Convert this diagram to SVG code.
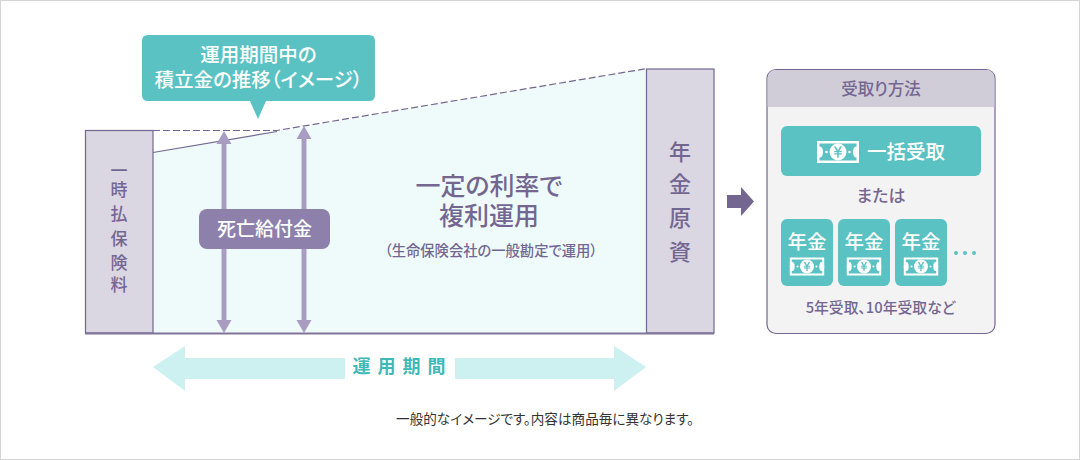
<svg xmlns="http://www.w3.org/2000/svg" width="1080" height="460" viewBox="0 0 1080 460">
<style>
text{font-family:"Noto Sans CJK JP","Noto Sans",sans-serif;text-anchor:middle;font-feature-settings:"palt"}
.v{fill:#736791;font-weight:500}
.lc{font-size:17px}
.rc{font-size:22px}
.w{fill:#fff}
.d{fill:#736791}
.teal{fill:#5ac2c2}
.col{fill:#dad6e2;stroke:#736791;stroke-width:1.2}
.dash{fill:none;stroke:#736791;stroke-width:1.2;stroke-dasharray:7 3}
.up{fill:#a89dc0}
</style>
<defs>
<g id="bill">
<rect x="-21" y="-11" width="42" height="22" fill="#fff"/>
<rect x="-18.500" y="-8.500" width="37" height="17" class="teal"/>
<ellipse cx="-18" rx="3" ry="5.500" fill="#fff"/>
<ellipse cx="18" rx="3" ry="5.500" fill="#fff"/>
<circle r="8.500" fill="#fff"/>
<path class="teal" d="M-4-5.500H-2.100L0-1.800 2.100-5.500H4L1.300-1H3.800V.2H.8V1.300H3.800V2.500H.8V5.500H-.8V2.500H-3.800V1.300H-.8V.2H-3.800V-1H-1.300Z"/>
<circle cx="-11.500" r="1.300" fill="#fff"/><circle cx="11.500" r="1.300" fill="#fff"/>
</g>
<g id="nen">
<rect width="52" height="67" rx="6" class="teal"/>
<text x="26" y="30" class="w" font-size="19.500" font-weight="500">年金</text>
<use href="#bill" transform="translate(26 47.500) scale(.82)"/>
</g>
</defs>
<rect x=".5" y=".5" width="1079" height="459" fill="#fff" stroke="#d4d4d4"/>
<g id="fund"><path d="M153 152.500L646 69V333H153Z" fill="#effbfb"/></g>
<g id="connectors">
<path class="dash" d="M153 130.500H277L646 68.700"/>
<path d="M153 152.500L277 131.500" fill="none" stroke="#736791" stroke-width="1.200"/>
<path class="up" d="M224 131L231.500 144H226.500V320H231.500L224 333 216.500 320H221.500V144H216.500Z"/>
<path class="up" d="M304 126L311.500 139H306.500V320H311.500L304 333 296.500 320H301.500V139H296.500Z"/>
<path d="M727 195H741V187L754 201.500 741 216V208H727Z" class="d"/>
<path d="M153 367L185 346V358H345V379H185V391Z M646 367L614 346V358H455V379H614V391Z" fill="#ccf1f0"/>
</g>
<g id="left-col"><rect x="85.500" y="130.500" width="67.500" height="202.500" class="col"/>
<text class="v lc"><tspan x="119" y="177">一</tspan><tspan x="119" y="196">時</tspan><tspan x="119" y="220">払</tspan><tspan x="119" y="245">保</tspan><tspan x="119" y="269">険</tspan><tspan x="119" y="291">料</tspan></text></g>
<g id="right-col"><rect x="646.500" y="69" width="67.500" height="264" class="col"/>
<text class="v rc" x="680" y="160">年</text><text class="v rc" x="680" y="192">金</text><text class="v rc" x="680" y="226">原</text><text class="v rc" x="680" y="260">資</text></g>
<path id="baseline" d="M85 333.500H714" stroke="#817599" stroke-width="2" fill="none"/>
<g id="callout"><path class="teal" d="M148 35H369Q375 35 375 41V95Q375 101 369 101H266L258 119 250 101H148Q142 101 142 95V41Q142 35 148 35Z"/>
<text x="258.500" y="62" class="w" font-size="19.500" font-weight="500">運用期間中の</text><text x="258.500" y="87" class="w" font-size="19.500" font-weight="500">積立金の推移（イメージ）</text></g>
<g id="death"><rect x="199" y="209" width="131" height="40" rx="8" fill="#8d80ab"/><text x="264.500" y="236" class="w" font-size="19" font-weight="500">死亡給付金</text></g>
<g id="rate"><text class="d" font-size="25" font-weight="500"><tspan x="489" y="195">一定の利率で</tspan><tspan x="489" y="225">複利運用</tspan></text>
<text x="491" y="256" class="d" font-size="14.300" font-weight="500">（生命保険会社の一般勘定で運用）</text></g>
<g id="period"><text x="402.500" y="373" font-size="18" font-weight="700" fill="#3fb8b8" letter-spacing="7">運用期間</text></g>
<g id="method"><rect x="767" y="69.500" width="228" height="264" rx="9" fill="#f3f3f4" stroke="#736791" stroke-width="1.200"/>
<path d="M767.600 107V78.500Q767.600 70 776 70H986Q994.400 70 994.400 78.500V107Z" fill="#d1cdd8"/>
<text x="881" y="95" class="d" font-size="16.500" font-weight="500">受取り方法</text>
<rect x="781" y="126" width="200" height="50" rx="6" class="teal"/>
<use href="#bill" transform="translate(838 152)"/>
<text x="906" y="159" class="w" font-size="19.500" font-weight="500">一括受取</text>
<text x="881" y="202" class="d" font-size="17" font-weight="500">または</text>
<use href="#nen" x="781" y="219"/><use href="#nen" x="838" y="219"/><use href="#nen" x="895" y="219"/>
<circle cx="956" cy="253" r="2" class="teal"/><circle cx="965" cy="253" r="2" class="teal"/><circle cx="974" cy="253" r="2" class="teal"/>
<text x="880.500" y="313" class="d" font-size="14.800" font-weight="500">5年受取、10年受取など</text></g>
<text id="note" x="545" y="424" font-size="13.600" fill="#333">一般的なイメージです。内容は商品毎に異なります。</text>
</svg>
